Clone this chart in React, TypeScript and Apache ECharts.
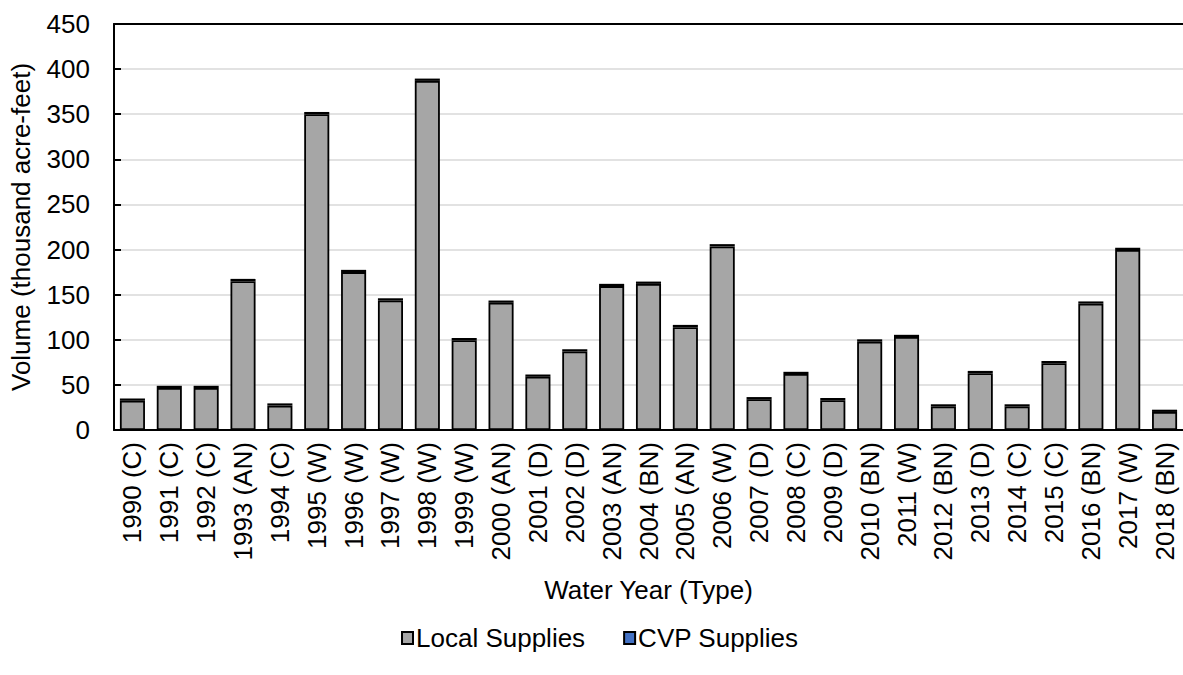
import React, { useEffect, useRef } from "react";
import * as echarts from "echarts";

// Water years with their year-type classification
const years: string[] = [
  "1990 (C)", "1991 (C)", "1992 (C)", "1993 (AN)", "1994 (C)", "1995 (W)",
  "1996 (W)", "1997 (W)", "1998 (W)", "1999 (W)", "2000 (AN)", "2001 (D)",
  "2002 (D)", "2003 (AN)", "2004 (BN)", "2005 (AN)", "2006 (W)", "2007 (D)",
  "2008 (C)", "2009 (D)", "2010 (BN)", "2011 (W)", "2012 (BN)", "2013 (D)",
  "2014 (C)", "2015 (C)", "2016 (BN)", "2017 (W)", "2018 (BN)",
];

// Volumes in thousand acre-feet
const localSupplies: number[] = [
  32.5, 46.5, 46.5, 165, 27, 350, 175, 143.5, 387, 99.5, 141, 59, 87, 159.5,
  162, 114, 203.5, 34, 62, 33, 98, 103, 26, 63, 26, 74, 140, 199.5, 20,
];
const cvpSupplies: number[] = [
  2.5, 2.5, 2.5, 2.5, 2.5, 2.5, 2.5, 2.5, 2.5, 2.5, 2.5, 2.5, 2.5, 2.5, 2.5,
  2.5, 2.5, 2.5, 2.5, 2.5, 2.5, 2.5, 2.5, 2.5, 2.5, 2.5, 2.5, 2.5, 2.5,
];

const FONT = "'Liberation Sans', Arial, sans-serif";
const FS = 26;

export default function App() {
  const ref = useRef<HTMLDivElement>(null);

  useEffect(() => {
    if (!ref.current) return;
    const chart = echarts.init(ref.current, null, { renderer: "svg" });
    chart.setOption({
      animation: false,
      textStyle: { fontFamily: FONT, color: "#000" },
      grid: { left: 112, top: 24, right: -8, bottom: 245, containLabel: false },
      legend: {
        top: 620,
        left: 396,
        icon: "rect",
        itemWidth: 11,
        itemHeight: 12,
        itemGap: 38,
        textStyle: { fontFamily: FONT, fontSize: FS, color: "#000", padding: [0, 0, 0, -2] },
        data: ["Local Supplies", "CVP Supplies"],
      },
      xAxis: [
        {
          type: "category",
          data: years,
          name: "Water Year (Type)",
          nameLocation: "middle",
          nameGap: 147,
          nameTextStyle: { fontFamily: FONT, fontSize: FS, color: "#000" },
          axisLine: { show: true, lineStyle: { color: "#000", width: 2 } },
          axisTick: { show: false },
          axisLabel: {
            rotate: 90,
            interval: 0,
            margin: 12,
            fontFamily: FONT,
            fontSize: FS,
            color: "#000",
          },
        },
        {
          type: "category",
          data: years,
          position: "top",
          axisLine: { show: true, lineStyle: { color: "#000", width: 2 } },
          axisTick: { show: false },
          axisLabel: { show: false },
        },
      ],
      yAxis: {
        type: "value",
        min: 0,
        max: 450,
        interval: 50,
        name: "Volume (thousand acre-feet)",
        nameLocation: "middle",
        nameRotate: 90,
        nameGap: 80,
        nameTextStyle: { fontFamily: FONT, fontSize: FS, color: "#000" },
        axisLine: { show: true, lineStyle: { color: "#000", width: 2 } },
        axisTick: { show: true, inside: true, length: 7, lineStyle: { color: "#000", width: 2 } },
        axisLabel: { margin: 24, fontFamily: FONT, fontSize: FS, color: "#000" },
        splitLine: { show: true, lineStyle: { color: "#d9d9d9", width: 1.5 } },
      },
      series: [
        {
          name: "Local Supplies",
          type: "bar",
          stack: "supply",
          barWidth: "68%",
          data: localSupplies,
          itemStyle: { color: "#a6a6a6", borderColor: "#000", borderWidth: 1.8 },
        },
        {
          name: "CVP Supplies",
          type: "bar",
          stack: "supply",
          barWidth: "68%",
          data: cvpSupplies,
          itemStyle: { color: "#4472c4", borderColor: "#000", borderWidth: 1.8 },
        },
      ],
    });
    return () => chart.dispose();
  }, []);

  return (
    <div
      ref={ref}
      style={{ position: "fixed", left: 0, top: 0, width: 1183, height: 675, background: "#fff" }}
    />
  );
}
